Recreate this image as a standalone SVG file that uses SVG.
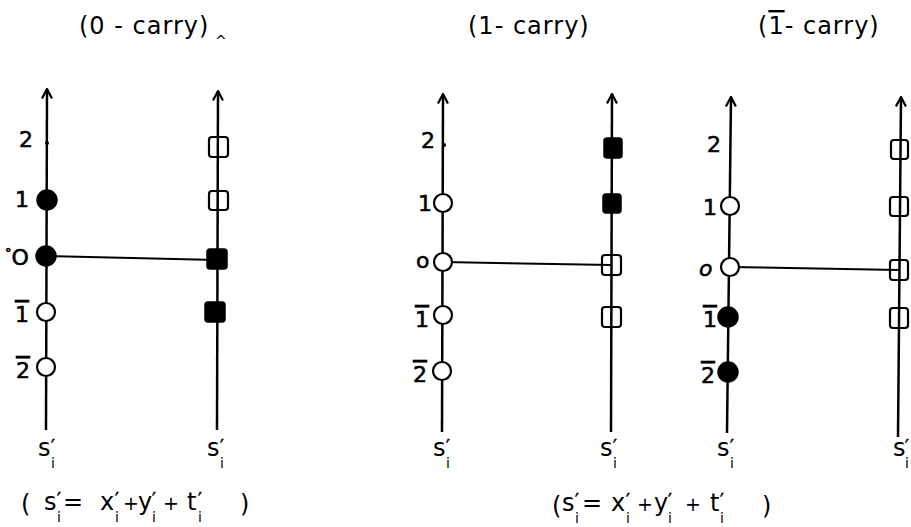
<svg xmlns="http://www.w3.org/2000/svg" width="911" height="527" viewBox="0 0 911 527">
<defs>
<marker id="arr" viewBox="0 0 12 12" refX="11" refY="6" markerWidth="12" markerHeight="12" markerUnits="userSpaceOnUse" orient="auto">
<path d="M1.5,1 L11,6 L1.5,11" fill="none" stroke="#000" stroke-width="2.2" stroke-linejoin="miter"/>
</marker>
</defs>
<style>
.ax{stroke:#000;stroke-width:2.5;fill:none}
.cn{stroke:#000;stroke-width:2;fill:none}
.oc{fill:#fff;stroke:#000;stroke-width:2.2}
.fc{fill:#000;stroke:#000;stroke-width:1.5}
.os{fill:none;stroke:#000;stroke-width:2.2}
.fs{fill:#000;stroke:#000;stroke-width:1.5}
text,tspan{font-family:"DejaVu Sans","Liberation Sans",sans-serif;fill:#000}
.t{font-size:22px;stroke:#000;stroke-width:0.6}
.ti{font-size:24px;letter-spacing:1px}
.f{font-size:24px}
.p{font-size:17px;stroke:#000;stroke-width:0.5}
.s{font-size:14px}
.pl{font-size:19px}
.ov{text-decoration:overline}
</style>
<rect width="911" height="527" fill="#fff"/>

<!-- titles -->
<g id="titles">
<text class="ti" x="79" y="34">(0 - carry)</text>
<text x="215" y="46" font-size="14">^</text>
<text class="ti" x="468" y="34">(1- carry)</text>
<text class="ti" x="758" y="34" letter-spacing="0.5">(<tspan class="ov">1</tspan>- carry)</text>
</g>

<!-- axes -->
<g id="axes">
<line id="axis-a1" class="ax" x1="46" y1="430" x2="47" y2="89" marker-end="url(#arr)"/>
<line id="axis-a2" class="ax" x1="217" y1="430" x2="218" y2="91" marker-end="url(#arr)"/>
<line id="axis-b1" class="ax" x1="442" y1="432" x2="443" y2="94" marker-end="url(#arr)"/>
<line id="axis-b2" class="ax" x1="611" y1="432" x2="612" y2="94" marker-end="url(#arr)"/>
<line id="axis-c1" class="ax" x1="727" y1="433" x2="731" y2="97" marker-end="url(#arr)"/>
<line id="axis-c2" class="ax" x1="898" y1="437" x2="901" y2="97" marker-end="url(#arr)"/>
</g>

<!-- connectors -->
<g id="connectors">
<line class="cn" x1="46" y1="256" x2="217" y2="260"/>
<line class="cn" x1="443" y1="262" x2="612" y2="265"/>
<line class="cn" x1="729" y1="267" x2="899" y2="270"/>
</g>

<!-- panel A (0-carry) -->
<g id="a-labels">
<text class="t" x="19" y="147">2</text>
<text class="t" x="15" y="207">1</text>
<text class="t" x="5" y="265"><tspan font-size="13" dy="-8">°</tspan><tspan dy="8">O</tspan></text>
<text class="t ov" x="15" y="322">1</text>
<text class="t ov" x="16" y="378">2</text>
</g>
<g id="a-l2"><circle cx="47" cy="143" r="2" fill="#000"/></g>
<g id="a-l1"><circle class="fc" cx="47" cy="200" r="10"/></g>
<g id="a-l0"><circle class="fc" cx="46" cy="256" r="10"/></g>
<g id="a-lm1"><circle class="oc" cx="46" cy="312" r="9"/></g>
<g id="a-lm2"><circle class="oc" cx="46" cy="367" r="9"/></g>
<g id="a-r2"><rect class="os" x="209" y="137" width="19" height="20" rx="3"/></g>
<g id="a-r1"><rect class="os" x="209" y="191" width="19" height="19" rx="3"/></g>
<g id="a-r0"><rect class="fs" x="207" y="249" width="20" height="20" rx="3"/></g>
<g id="a-rm1"><rect class="fs" x="205" y="302" width="20" height="20" rx="3"/></g>

<!-- panel B (1-carry) -->
<g id="b-labels">
<text class="t" x="421" y="148">2</text>
<text class="t" x="418" y="211">1</text>
<text class="t" x="416" y="268">o</text>
<text class="t ov" x="415" y="327">1</text>
<text class="t ov" x="413" y="382">2</text>
</g>
<g id="b-l2"><circle cx="444" cy="145" r="2" fill="#000"/></g>
<g id="b-l1"><circle class="oc" cx="443" cy="203" r="9"/></g>
<g id="b-l0"><circle class="oc" cx="443" cy="262" r="9"/></g>
<g id="b-lm1"><circle class="oc" cx="443" cy="315" r="9"/></g>
<g id="b-lm2"><circle class="oc" cx="442" cy="371" r="9"/></g>
<g id="b-r2"><rect class="fs" x="604" y="138" width="18" height="20" rx="3"/></g>
<g id="b-r1"><rect class="fs" x="603" y="194" width="18" height="19" rx="3"/></g>
<g id="b-r0"><rect class="os" x="602" y="255" width="19" height="20" rx="3"/></g>
<g id="b-rm1"><rect class="os" x="602" y="307" width="19" height="20" rx="3"/></g>

<!-- panel C (1bar-carry) -->
<g id="c-labels">
<text class="t" x="707" y="152">2</text>
<text class="t" x="703" y="215">1</text>
<text class="t" x="699" y="276" font-size="23" font-style="italic">o</text>
<text class="t ov" x="703" y="327">1</text>
<text class="t ov" x="701" y="383">2</text>
</g>
<g id="c-l1"><circle class="oc" cx="730" cy="206" r="9"/></g>
<g id="c-l0"><circle class="oc" cx="730" cy="267" r="9"/></g>
<g id="c-lm1"><circle class="fc" cx="728" cy="317" r="10"/></g>
<g id="c-lm2"><circle class="fc" cx="728" cy="372" r="10"/></g>
<g id="c-r2"><rect class="os" x="891" y="140" width="17" height="19" rx="3"/></g>
<g id="c-r1"><rect class="os" x="890" y="197" width="18" height="19" rx="3"/></g>
<g id="c-r0"><rect class="os" x="890" y="260" width="18" height="20" rx="3"/></g>
<g id="c-rm1"><rect class="os" x="890" y="308" width="18" height="20" rx="3"/></g>

<!-- bottom axis labels -->
<g id="axis-labels">
<text class="f"><tspan x="38" y="456">s</tspan><tspan class="p" x="51" y="452">′</tspan><tspan class="s" x="51" y="468">i</tspan></text>
<text class="f"><tspan x="207" y="456">s</tspan><tspan class="p" x="220" y="452">′</tspan><tspan class="s" x="220" y="468">i</tspan></text>
<text class="f"><tspan x="433" y="456">s</tspan><tspan class="p" x="446" y="452">′</tspan><tspan class="s" x="446" y="468">i</tspan></text>
<text class="f"><tspan x="600" y="456">s</tspan><tspan class="p" x="613" y="452">′</tspan><tspan class="s" x="613" y="468">i</tspan></text>
<text class="f"><tspan x="717" y="456">s</tspan><tspan class="p" x="730" y="452">′</tspan><tspan class="s" x="730" y="468">i</tspan></text>
<text class="f"><tspan x="893" y="456">s</tspan><tspan class="p" x="905" y="452">′</tspan><tspan class="s" x="905" y="468">i</tspan></text>
</g>

<!-- formulas -->
<g id="formulas">
<text class="f"><tspan x="21" y="512">(</tspan><tspan x="44" y="510">s</tspan><tspan class="p" x="57" y="505">′</tspan><tspan class="s" x="57" y="522">i</tspan><tspan x="63" y="510">=</tspan><tspan x="100" y="510">x</tspan><tspan class="p" x="115" y="505">′</tspan><tspan class="s" x="115" y="522">i</tspan><tspan class="pl" x="123" y="510">+</tspan><tspan x="138" y="510">y</tspan><tspan class="p" x="152" y="505">′</tspan><tspan class="s" x="152" y="522">i</tspan><tspan class="pl" x="163" y="510">+</tspan><tspan x="187" y="510">t</tspan><tspan class="p" x="198" y="505">′</tspan><tspan class="s" x="198" y="522">i</tspan><tspan x="240" y="512">)</tspan></text>
<text class="f"><tspan x="552" y="514">(</tspan><tspan x="562" y="511">s</tspan><tspan class="p" x="575" y="506">′</tspan><tspan class="s" x="575" y="523">i</tspan><tspan x="582" y="511">=</tspan><tspan x="611" y="511">x</tspan><tspan class="p" x="626" y="506">′</tspan><tspan class="s" x="626" y="523">i</tspan><tspan class="pl" x="637" y="511">+</tspan><tspan x="654" y="511">y</tspan><tspan class="p" x="668" y="506">′</tspan><tspan class="s" x="668" y="523">i</tspan><tspan class="pl" x="685" y="511">+</tspan><tspan x="710" y="511">t</tspan><tspan class="p" x="720" y="506">′</tspan><tspan class="s" x="720" y="523">i</tspan><tspan x="762" y="514">)</tspan></text>
</g>
</svg>
